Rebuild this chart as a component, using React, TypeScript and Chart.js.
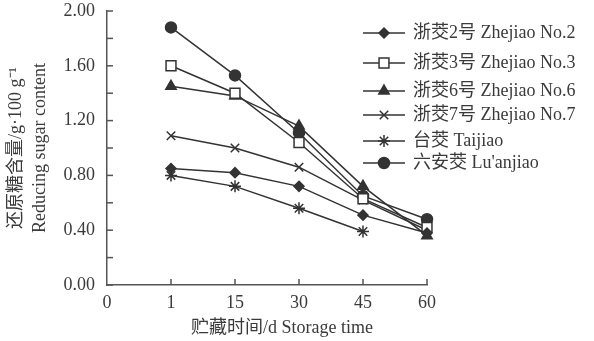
import React, { useEffect, useRef } from "react";
import { Chart, registerables } from "chart.js";
import { drawPoint } from "chart.js/helpers";

Chart.register(...registerables);

const days = ["0", "1", "15", "30", "45", "60"];
const zhejiao2 = [null, 0.85, 0.82, 0.72, 0.51, 0.38];
const zhejiao3 = [null, 1.6, 1.4, 1.04, 0.63, 0.42];
const zhejiao6 = [null, 1.45, 1.38, 1.16, 0.72, 0.36];
const zhejiao7 = [null, 1.09, 1.0, 0.86, 0.62, 0.4];
const taijiao = [null, 0.8, 0.72, 0.56, 0.39, null];
const luanjiao = [null, 1.88, 1.53, 1.11, 0.65, 0.48];
const seriesLabels = [
  "浙茭2号 Zhejiao No.2",
  "浙茭3号 Zhejiao No.3",
  "浙茭6号 Zhejiao No.6",
  "浙茭7号 Zhejiao No.7",
  "台茭 Taijiao",
  "六安茭 Lu'anjiao",
];
const yTitle = ["还原糖含量/g·100 g⁻¹", "Reducing sugar content"];
const xTitle = "贮藏时间/d Storage time";

const FONT = "'Liberation Serif', 'Noto Sans CJK SC', serif";
const INK = "#333";
const TXT = "#3a3a3a";

const markers = [
  { style: "rectRot", r: 5, fill: INK },
  { style: "rect", r: 7, fill: "#fff" },
  { style: "triangle", r: 6, fill: INK },
  { style: "crossRot", r: 6, fill: INK },
  { style: "star", r: 6, fill: INK },
  { style: "circle", r: 5.5, fill: INK },
];

const decorPlugin = {
  id: "decor",
  afterDraw(chart: any) {
    const ctx = chart.ctx;
    const area = chart.chartArea;
    const xs = chart.scales.x;
    const ys = chart.scales.y;
    ctx.save();
    ctx.strokeStyle = "#555";
    ctx.lineWidth = 1.5;
    ys.ticks.forEach((t: any) => {
      const y = ys.getPixelForValue(t.value);
      ctx.beginPath();
      ctx.moveTo(area.left, y);
      ctx.lineTo(area.left + 6, y);
      ctx.stroke();
    });
    for (let i = 1; i < days.length; i++) {
      const x = xs.getPixelForValue(i);
      ctx.beginPath();
      ctx.moveTo(x, area.bottom);
      ctx.lineTo(x, area.bottom - 6);
      ctx.stroke();
    }
    ctx.fillStyle = TXT;
    ctx.font = `18px ${FONT}`;
    ctx.textAlign = "center";
    ctx.textBaseline = "middle";
    ctx.fillText(xTitle, 282, 328);

    const rows = [33, 63, 91, 115, 141, 163];
    chart.data.datasets.forEach((ds: any, i: number) => {
      const y = rows[i];
      ctx.strokeStyle = INK;
      ctx.lineWidth = 1.5;
      ctx.beginPath();
      ctx.moveTo(363, y);
      ctx.lineTo(405, y);
      ctx.stroke();
      ctx.fillStyle = ds.pointBackgroundColor;
      ctx.strokeStyle = INK;
      ctx.lineWidth = 1.5;
      drawPoint(ctx, { pointStyle: ds.pointStyle, radius: ds.pointRadius, borderWidth: 1.5 }, 384, y);
      ctx.fillStyle = TXT;
      ctx.font = `18px ${FONT}`;
      ctx.textAlign = "left";
      ctx.textBaseline = "middle";
      ctx.fillText(ds.label, 413, y);
    });
    ctx.restore();
  },
};

export default function App() {
  const ref = useRef<HTMLCanvasElement>(null);
  useEffect(() => {
    document.body.style.margin = "0";
    const series = [zhejiao2, zhejiao3, zhejiao6, zhejiao7, taijiao, luanjiao];
    const chart = new Chart(ref.current!, {
      type: "line",
      data: {
        labels: days,
        datasets: series.map((d, i) => ({
          label: seriesLabels[i],
          data: d,
          borderColor: INK,
          borderWidth: 1.5,
          pointStyle: markers[i].style as any,
          pointRadius: markers[i].r,
          pointBackgroundColor: markers[i].fill,
          pointBorderColor: INK,
          pointBorderWidth: 1.5,
          tension: 0,
          spanGaps: false,
        })),
      },
      options: {
        animation: false,
        responsive: false,
        layout: { padding: { top: 11, right: 167, left: 0, bottom: 0 } },
        plugins: { legend: { display: false }, tooltip: { enabled: false } },
        scales: {
          x: {
            type: "category",
            offset: false,
            grid: { display: false, drawTicks: false },
            border: { display: true, color: "#555", width: 1.5 },
            ticks: {
              font: { family: FONT, size: 18 },
              color: TXT,
              padding: 7,
              maxRotation: 0,
              autoSkip: false,
            },
            afterFit: (s: any) => {
              s.height = 56;
              s.paddingLeft = 0;
              s.paddingRight = 0;
            },
          },
          y: {
            min: 0,
            max: 2,
            grid: { display: false, drawTicks: false },
            border: { display: true, color: "#555", width: 1.5 },
            ticks: {
              stepSize: 0.2,
              font: { family: FONT, size: 18 },
              color: TXT,
              padding: 12,
              callback: (v: any) => {
                const n = Math.round(Number(v) * 10);
                return n % 4 === 0 ? (n / 10).toFixed(2) : "";
              },
            },
            title: {
              display: true,
              text: yTitle,
              font: { family: FONT, size: 18, lineHeight: 1.35 },
              color: TXT,
              padding: { top: 4, bottom: 0 },
            },
            afterFit: (s: any) => {
              s.width = 107;
              s.paddingTop = 0;
              s.paddingBottom = 0;
            },
          },
        },
      },
      plugins: [decorPlugin],
    });
    return () => chart.destroy();
  }, []);
  return (
    <div style={{ position: "absolute", left: 0, top: 0, width: 594, height: 341, background: "#fff" }}>
      <canvas ref={ref} width={594} height={341} style={{ width: 594, height: 341 }} />
    </div>
  );
}
